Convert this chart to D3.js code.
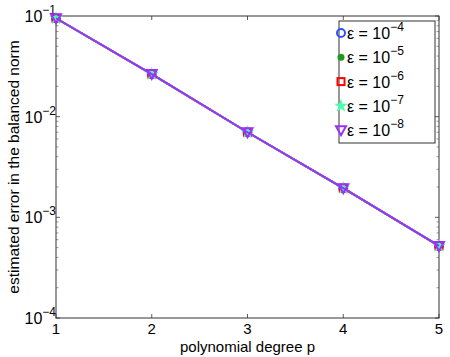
<!DOCTYPE html>
<html>
<head>
<meta charset="utf-8">
<script src="https://cdn.jsdelivr.net/npm/d3@7"></script>
<style>
body { margin: 0; background: #fff; }
text { font-family: "Liberation Sans", Arial, sans-serif; fill: #000; }
</style>
</head>
<body>
<svg width="450" height="357"></svg>
<script>
// data
var degrees = [1, 2, 3, 4, 5];
var epsExp = [-4, -5, -6, -7, -8];
var err4 = [0.095, 0.0265, 0.0070, 0.00195, 0.00052];
var err5 = [0.095, 0.0265, 0.0070, 0.00195, 0.00052];
var err6 = [0.095, 0.0265, 0.0070, 0.00195, 0.00052];
var err7 = [0.095, 0.0265, 0.0070, 0.00195, 0.00052];
var err8 = [0.095, 0.0265, 0.0070, 0.00195, 0.00052];
var yTickExp = [-4, -3, -2, -1];

var series = [
  {exp: epsExp[0], vals: err4, color: '#2f4fff', marker: 'circle'},
  {exp: epsExp[1], vals: err5, color: '#1f9a1f', marker: 'dot'},
  {exp: epsExp[2], vals: err6, color: '#ff0000', marker: 'square'},
  {exp: epsExp[3], vals: err7, color: '#4dffae', marker: 'star'},
  {exp: epsExp[4], vals: err8, color: '#9b30ff', marker: 'tri'}
];

var svg = d3.select('svg');
var L = 56, R = 439, T = 16, B = 318;

var x = d3.scaleLinear().domain([1, 5]).range([L, R]);
var y = d3.scaleLog().domain([1e-4, 1e-1]).range([B, T]);

// minor ticks on log axis
var minor = [];
yTickExp.slice(0, 3).forEach(function(e) {
  for (var k = 2; k <= 9; k++) minor.push(k * Math.pow(10, e));
});

var g = svg.append('g');

// ticks inside the box, left and right
g.selectAll('.ymaj').data(yTickExp).enter().append('path')
  .attr('d', function(e) {
    var yy = y(Math.pow(10, e));
    return 'M' + L + ',' + yy + 'h4M' + R + ',' + yy + 'h-4';
  })
  .attr('stroke', '#333').attr('stroke-width', 0.8);
g.selectAll('.ymin').data(minor).enter().append('path')
  .attr('d', function(v) {
    var yy = y(v);
    return 'M' + L + ',' + yy + 'h2.5M' + R + ',' + yy + 'h-2.5';
  })
  .attr('stroke', '#777').attr('stroke-width', 0.7);
g.selectAll('.xmaj').data(degrees).enter().append('path')
  .attr('d', function(d) {
    var xx = x(d);
    return 'M' + xx + ',' + B + 'v-4M' + xx + ',' + T + 'v4';
  })
  .attr('stroke', '#333').attr('stroke-width', 0.8);

g.append('rect')
  .attr('x', L).attr('y', T).attr('width', R - L).attr('height', B - T)
  .attr('fill', 'none').attr('stroke', '#333').attr('stroke-width', 1);

// tick labels
g.selectAll('.xl').data(degrees).enter().append('text')
  .attr('x', function(d) { return x(d); })
  .attr('y', B + 16)
  .attr('text-anchor', 'middle')
  .attr('font-size', 15)
  .text(function(d) { return d; });

var yl = g.selectAll('.yl').data(yTickExp).enter().append('text')
  .attr('x', 56)
  .attr('y', function(e) { return y(Math.pow(10, e)) + 6; })
  .attr('text-anchor', 'end')
  .attr('font-size', 16);
yl.append('tspan').text('10');
yl.append('tspan').attr('dy', -8).attr('font-size', 12).text(function(e) { return '\u2212' + (-e); });

// axis titles
svg.append('text')
  .attr('x', (L + R) / 2).attr('y', 352)
  .attr('text-anchor', 'middle').attr('font-size', 15)
  .text('polynomial degree p');
svg.append('text')
  .attr('transform', 'translate(19,' + (T + B) / 2 + ') rotate(-90)')
  .attr('text-anchor', 'middle').attr('font-size', 15.5)
  .text('estimated error in the balanced norm');

// marker drawing
function drawMarker(sel, s, cx, cy) {
  if (s.marker === 'circle') {
    sel.append('circle').attr('cx', cx).attr('cy', cy).attr('r', 4)
      .attr('fill', 'none').attr('stroke', s.color).attr('stroke-width', 2);
  } else if (s.marker === 'dot') {
    sel.append('circle').attr('cx', cx).attr('cy', cy).attr('r', 3.5)
      .attr('fill', s.color);
  } else if (s.marker === 'square') {
    sel.append('rect').attr('x', cx - 3.5).attr('y', cy - 3.5)
      .attr('width', 7).attr('height', 7)
      .attr('fill', 'none').attr('stroke', s.color).attr('stroke-width', 2);
  } else if (s.marker === 'star') {
    sel.append('path').attr('transform', 'translate(' + cx + ',' + cy + ')')
      .attr('d', d3.symbol(d3.symbolStar, 60)())
      .attr('fill', s.color);
  } else {
    sel.append('path')
      .attr('d', 'M' + (cx - 5) + ',' + (cy - 4) + 'h10l-5,9z')
      .attr('fill', 'none').attr('stroke', s.color).attr('stroke-width', 2);
  }
}

var line = d3.line()
  .x(function(d, i) { return x(degrees[i]); })
  .y(function(d) { return y(d); });

series.forEach(function(s) {
  var sg = svg.append('g');
  sg.append('path').datum(s.vals)
    .attr('d', line)
    .attr('fill', 'none').attr('stroke', s.color).attr('stroke-width', 2);
  s.vals.forEach(function(v, i) { drawMarker(sg, s, x(degrees[i]), y(v)); });
});

// legend
var lx = 339, ly = 21, lw = 96, lh = 122;
svg.append('rect')
  .attr('x', lx).attr('y', ly).attr('width', lw).attr('height', lh)
  .attr('fill', '#fff').attr('stroke', '#333').attr('stroke-width', 1);

series.forEach(function(s, i) {
  var cy = 33 + i * 24.3;
  var lg = svg.append('g');
  drawMarker(lg, s, lx + 2, cy);
  var t = lg.append('text').attr('x', lx + 8).attr('y', cy + 6).attr('font-size', 16);
  t.append('tspan').text('\u03b5 = 10');
  t.append('tspan').attr('dy', -8).attr('font-size', 12).text('\u2212' + (-s.exp));
});
</script>
</body>
</html>
